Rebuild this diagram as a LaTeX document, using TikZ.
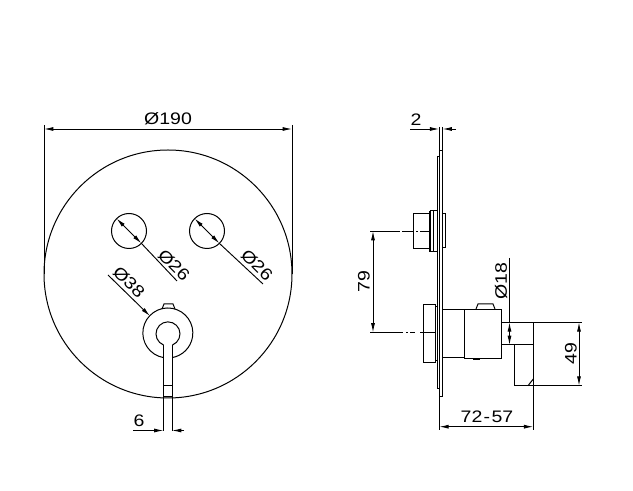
\documentclass[tikz,border=0pt]{standalone}
\usepackage{fontspec}
\setmainfont[FakeStretch=1.17]{Liberation Sans}
\usetikzlibrary{arrows.meta}
\tikzset{
  part/.style={draw=black,line width=0.75pt,line join=miter},
  dimline/.style={draw=black,line width=0.7pt},
  dimtip/.style={-{Latex[length=7pt,width=3pt]}},
  dimtips/.style={{Latex[length=7pt,width=3pt]}-{Latex[length=7pt,width=3pt]}},
  dimtext/.style={font=\fontsize{12.5pt}{14pt}\selectfont,inner sep=0pt,text=black}
}
\begin{document}
\begin{tikzpicture}[x=0.75pt,y=-0.75pt]
\useasboundingbox (0,0) rectangle (633,491);
\fill[white] (0,0) rectangle (633,491);
% front view
\draw[part] (168,274) circle (124);
\draw[part] (129,231) circle (17.5);
\draw[part] (207,231) circle (17.5);
\draw[part] (163.5,345) arc[start angle=112,delta angle=316,radius=12];
\draw[part] (163.5,357.6) arc[start angle=100,delta angle=340,radius=25];
\draw[part] (163.5,345) -- (163.5,431) (172,345) -- (172,431);
\draw[part] (163.5,386) -- (172,386) (163.5,397) -- (172,397);
\draw[part] (162,309) -- (164,304) -- (173,304) -- (175,309);
% front dims
\coordinate (tl) at (44,129); \coordinate (tr) at (292,129);
\draw[dimline,dimtips] (tl) -- (tr);
\draw[dimline] (44,125) -- (44,274) (292,125) -- (292,274);
\node[dimtext] (d190) at (168,119) {Ø190};
\draw[dimline,dimtips] (116.6,218.6) -- (141.4,243.4);
\draw[dimline] (141.4,243.4) -- (177,281);
\node[dimtext,rotate=-45] (d26a) at (174,265) {Ø26};
\draw[dimline,dimtips] (194.6,218.6) -- (219.4,243.4);
\draw[dimline] (219.4,243.4) -- (263,284);
\node[dimtext,rotate=-45] (d26b) at (257,265) {Ø26};
\draw[dimline,dimtip] (108,275) -- (150,316);
\node[dimtext,rotate=-45] (d38) at (129,282) {Ø38};
\draw[dimline,dimtip] (133,430.5) -- (163.5,430.5);
\draw[dimline,dimtip] (184,430.5) -- (172,430.5);
\node[dimtext] (d6) at (139,421) {6};
% side view: plate
\draw[part] (439.3,151) rectangle (442.5,397);
\draw[part] (439.3,157) -- (437.3,157) -- (437.3,389) -- (439.3,389);
% upper button
\draw[part] (413.3,214) rectangle (429.3,248.3);
\draw[part,line width=1.3pt] (429.8,211) -- (429.8,251.7);
\draw[part] (430,211) rectangle (433.3,251.7);
\draw[part] (433.3,210.7) rectangle (437.3,251.7);
\draw[part] (442.5,214) -- (445,214) -- (445,248) -- (442.5,248);
% lower knob
\draw[part] (423.3,305) rectangle (435,362.3);
\draw[part] (435,306.7) rectangle (437.3,361);
% body
\draw[part] (442.5,309.3) -- (464.3,309.3) (442.5,357.3) -- (464.3,357.3);
\draw[part] (464.3,309.3) rectangle (501.7,358.7);
\draw[part] (476,309) -- (478,304) -- (493,304) -- (495,309);
\draw[part,line width=1.3pt] (473,358.9) -- (480,358.9);
% outlet
\draw[part] (501.7,322.3) -- (581.7,322.3);
\draw[part] (501.7,345) -- (514.3,345);
\draw[part] (514.3,344.5) -- (533.3,344.5);
\draw[part] (514.3,344.5) -- (514.3,385.7) -- (581.7,385.7);
\draw[part] (533.3,322.3) -- (533.3,430);
\draw[part] (528,385.7) -- (533.3,379);
% side dims
\draw[dimline] (439.3,127) -- (439.3,151) (442.5,127) -- (442.5,151);
\draw[dimline,dimtip] (410,129) -- (439.3,129);
\draw[dimline,dimtip] (456,129) -- (442.5,129);
\node[dimtext] (d2) at (416,120) {2};
\draw[dimline] (370,231) -- (400,231) (402,231) -- (413,231) (416,231) -- (418,231) (420,231) -- (429,231);
\draw[dimline] (370,332.5) -- (403,332.5) (406,332.5) -- (408,332.5) (410,332.5) -- (415,332.5) (420,332.5) -- (435,332.5);
\draw[dimline,dimtips] (373,231) -- (373,332.5);
\node[dimtext,rotate=90] (d79) at (364,282) {79};
\draw[dimline] (509.5,258) -- (509.5,322.3);
\draw[dimline,dimtips] (509.5,322.3) -- (509.5,345);
\node[dimtext,rotate=90] (d18) at (501,281) {Ø18};
\draw[dimline,dimtips] (579,322.3) -- (579,385.7);
\node[dimtext,rotate=90] (d49) at (571,354) {49};
\draw[dimline] (439.3,397) -- (439.3,430);
\draw[dimline,dimtips] (439.3,426.7) -- (533.3,426.7);
\node[dimtext] (d72) at (487,417) {72\kern1pt-\kern1pt57};
\end{tikzpicture}
\end{document}
